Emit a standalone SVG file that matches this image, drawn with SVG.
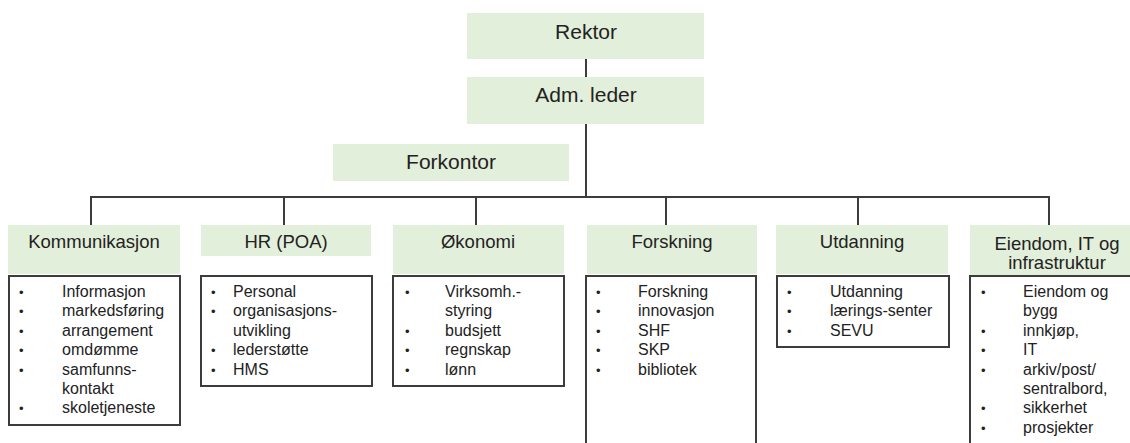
<svg xmlns="http://www.w3.org/2000/svg" width="1130" height="443" viewBox="0 0 1130 443">
  <style>
    .hdr { fill: #e2efda; }
    .lst { fill: #ffffff; stroke: #3c3c3c; stroke-width: 2; }
    .con { stroke: #3c3c3c; stroke-width: 2; fill: none; }
    .t21 { font-family: "Liberation Sans", Arial, sans-serif; font-size: 21px; fill: #222; text-anchor: middle; }
    .t17 { font-family: "Liberation Sans", Arial, sans-serif; font-size: 18.5px; fill: #222; text-anchor: middle; }
    .li { font-family: "Liberation Sans", Arial, sans-serif; font-size: 16px; fill: #222; }
    .bu { font-family: "Liberation Sans", Arial, sans-serif; font-size: 13px; fill: #222; }
  </style>
  <rect width="1130" height="443" fill="#ffffff"/>

  <!-- connectors -->
  <g id="connectors" class="con">
    <line x1="586" y1="59" x2="586" y2="77"/>
    <line x1="586" y1="124" x2="586" y2="197"/>
    <line x1="90" y1="197" x2="1050" y2="197"/>
    <line x1="91" y1="196" x2="91" y2="225"/>
    <line x1="284" y1="196" x2="284" y2="225"/>
    <line x1="476" y1="196" x2="476" y2="225"/>
    <line x1="666" y1="196" x2="666" y2="225"/>
    <line x1="858" y1="196" x2="858" y2="225"/>
    <line x1="1049" y1="196" x2="1049" y2="225"/>
  </g>

  <g id="rektor">
    <rect class="hdr" x="467" y="13" width="237" height="46"/>
    <text class="t21" x="586" y="39">Rektor</text>
  </g>
  <g id="adm-leder">
    <rect class="hdr" x="467" y="77" width="237" height="47"/>
    <text class="t21" x="586" y="102">Adm. leder</text>
  </g>
  <g id="forkontor">
    <rect class="hdr" x="333" y="144" width="236" height="37"/>
    <text class="t21" x="451" y="169">Forkontor</text>
  </g>

  <g id="kommunikasjon">
    <rect class="hdr" x="8" y="225" width="172" height="49"/>
    <text class="t17" x="94" y="248">Kommunikasjon</text>
    <rect class="lst" x="9" y="276" width="171" height="149"/>
    <text class="bu"><tspan x="19" y="297">•</tspan><tspan x="19" y="316.4">•</tspan><tspan x="19" y="335.8">•</tspan><tspan x="19" y="355.2">•</tspan><tspan x="19" y="374.6">•</tspan><tspan x="19" y="413.4">•</tspan></text>
    <text class="li"><tspan x="62" y="297">Informasjon</tspan><tspan x="62" y="316.4">markedsføring</tspan><tspan x="62" y="335.8">arrangement</tspan><tspan x="62" y="355.2">omdømme</tspan><tspan x="62" y="374.6">samfunns-</tspan><tspan x="62" y="394">kontakt</tspan><tspan x="62" y="413.4">skoletjeneste</tspan></text>
  </g>

  <g id="hr">
    <rect class="hdr" x="201" y="225" width="170" height="31"/>
    <text class="t17" x="286" y="248">HR (POA)</text>
    <rect class="lst" x="201" y="276" width="171" height="110"/>
    <text class="bu"><tspan x="211" y="297">•</tspan><tspan x="211" y="316.4">•</tspan><tspan x="211" y="355.2">•</tspan><tspan x="211" y="374.6">•</tspan></text>
    <text class="li"><tspan x="233" y="297">Personal</tspan><tspan x="233" y="316.4">organisasjons-</tspan><tspan x="233" y="335.8">utvikling</tspan><tspan x="233" y="355.2">lederstøtte</tspan><tspan x="233" y="374.6">HMS</tspan></text>
  </g>

  <g id="okonomi">
    <rect class="hdr" x="393" y="225" width="171" height="49"/>
    <text class="t17" x="478" y="248">Økonomi</text>
    <rect class="lst" x="393" y="276" width="171" height="110"/>
    <text class="bu"><tspan x="405" y="297">•</tspan><tspan x="405" y="335.8">•</tspan><tspan x="405" y="355.2">•</tspan><tspan x="405" y="374.6">•</tspan></text>
    <text class="li"><tspan x="445" y="297">Virksomh.-</tspan><tspan x="445" y="316.4">styring</tspan><tspan x="445" y="335.8">budsjett</tspan><tspan x="445" y="355.2">regnskap</tspan><tspan x="445" y="374.6">lønn</tspan></text>
  </g>

  <g id="forskning">
    <rect class="hdr" x="587" y="225" width="170" height="49"/>
    <text class="t17" x="672" y="248">Forskning</text>
    <rect class="lst" x="586" y="276" width="170" height="180"/>
    <text class="bu"><tspan x="596" y="297">•</tspan><tspan x="596" y="316.4">•</tspan><tspan x="596" y="335.8">•</tspan><tspan x="596" y="355.2">•</tspan><tspan x="596" y="374.6">•</tspan></text>
    <text class="li"><tspan x="638" y="297">Forskning</tspan><tspan x="638" y="316.4">innovasjon</tspan><tspan x="638" y="335.8">SHF</tspan><tspan x="638" y="355.2">SKP</tspan><tspan x="638" y="374.6">bibliotek</tspan></text>
  </g>

  <g id="utdanning">
    <rect class="hdr" x="776" y="225" width="172" height="49"/>
    <text class="t17" x="862" y="248">Utdanning</text>
    <rect class="lst" x="777" y="276" width="172" height="71"/>
    <text class="bu"><tspan x="787" y="297">•</tspan><tspan x="787" y="316.4">•</tspan><tspan x="787" y="335.8">•</tspan></text>
    <text class="li"><tspan x="830" y="297">Utdanning</tspan><tspan x="830" y="316.4">lærings-senter</tspan><tspan x="830" y="335.8">SEVU</tspan></text>
  </g>

  <g id="eiendom-it">
    <rect class="hdr" x="970" y="225" width="170" height="50"/>
    <text class="t17"><tspan x="1057" y="250">Eiendom, IT og</tspan><tspan x="1057" y="269">infrastruktur</tspan></text>
    <rect class="lst" x="970" y="276" width="180" height="180"/>
    <text class="bu"><tspan x="981" y="297">•</tspan><tspan x="981" y="335.8">•</tspan><tspan x="981" y="355.2">•</tspan><tspan x="981" y="374.6">•</tspan><tspan x="981" y="413.4">•</tspan><tspan x="981" y="432.8">•</tspan></text>
    <text class="li"><tspan x="1023" y="297">Eiendom og</tspan><tspan x="1023" y="316.4">bygg</tspan><tspan x="1023" y="335.8">innkjøp,</tspan><tspan x="1023" y="355.2">IT</tspan><tspan x="1023" y="374.6">arkiv/post/</tspan><tspan x="1023" y="394">sentralbord,</tspan><tspan x="1023" y="413.4">sikkerhet</tspan><tspan x="1023" y="432.8">prosjekter</tspan></text>
  </g>
</svg>
